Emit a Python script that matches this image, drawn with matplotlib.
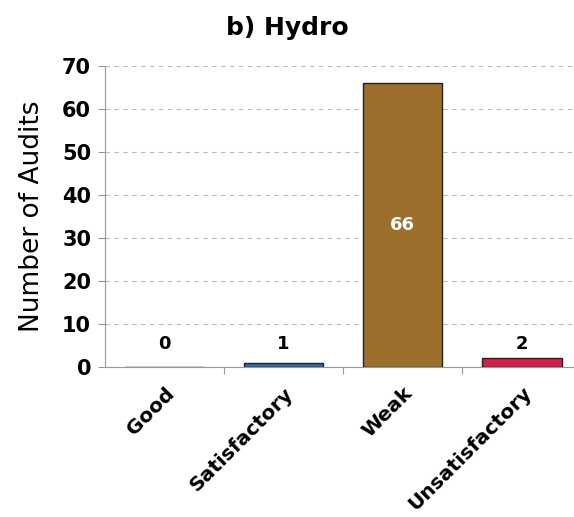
import matplotlib
matplotlib.use('Agg')
import matplotlib.pyplot as plt

# Audit ratings for hydro
categories = ["Good", "Satisfactory", "Weak", "Unsatisfactory"]
counts = [0, 1, 66, 2]
colors = ["#2E6BB0", "#2E6BB0", "#9C702C", "#D21F47"]

fig = plt.figure(figsize=(5.74, 5.17), dpi=100)
ax = fig.add_axes([105 / 574, 1 - 367 / 517, 1 - 105 / 574, 301 / 517])

x = range(len(categories))
ax.bar(x, counts, width=0.67, color=colors, edgecolor="#222222", linewidth=1, zorder=3)

for i, v in enumerate(counts):
    if v > 10:
        ax.text(i, v / 2, str(v), ha="center", va="center", color="white",
                fontsize=13, fontweight="bold", zorder=4)
    else:
        ax.text(i, 5.3, str(v), ha="center", va="center", color="black",
                fontsize=13, fontweight="bold", zorder=4)

ax.set_ylim(0, 70)
ax.set_xlim(-0.5, 3.44)
ax.set_yticks(range(0, 71, 10))
ax.set_xticks([0.5, 1.5, 2.5], minor=False)
ax.set_xticklabels([])
ax.set_xticks(list(x), minor=True)
ax.set_xticklabels(categories, minor=True, rotation=45, ha="right",
                   rotation_mode="anchor", fontsize=14.5, fontweight="bold")
ax.tick_params(axis="x", which="minor", length=0, pad=12)
ax.tick_params(axis="x", which="major", length=5, color="#999999", direction="out")
ax.tick_params(axis="y", length=5, color="#999999", labelsize=15, pad=5)
for lab in ax.get_yticklabels():
    lab.set_fontweight("bold")

ax.yaxis.grid(True, linestyle=(0, (4, 4)), color="#bbbbbb", linewidth=0.8, zorder=0)
for s in ["top", "right"]:
    ax.spines[s].set_visible(False)
for s in ["left", "bottom"]:
    ax.spines[s].set_color("#999999")

ax.set_ylabel("Number of Audits", fontsize=19, labelpad=12)
fig.text(287 / 574, 1 - 28 / 517, "b) Hydro", ha="center", va="center",
         fontsize=18, fontweight="bold")

fig.savefig("out.png", dpi=100)
